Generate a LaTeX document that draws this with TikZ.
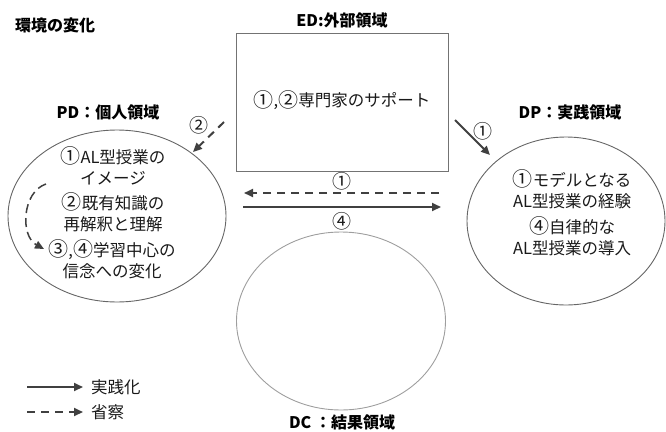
\documentclass[tikz,border=0pt]{standalone}
\usepackage{fontspec}
\setmainfont{Noto Sans CJK JP}
\usetikzlibrary{shapes.geometric,arrows.meta}
\newcommand\cnum[1]{{\fontsize{20}{21}\selectfont\raisebox{-0.5pt}{#1}}}
\begin{document}
\begin{tikzpicture}[x=1pt,y=-1pt,
  body/.style={font=\fontsize{16.5}{21}\selectfont, align=center, text=black!90, inner sep=0},
  lab/.style={font=\fontsize{16}{19}\selectfont\bfseries, inner sep=0},
  num/.style={font=\fontsize{19}{20}\selectfont, inner sep=0, text=black!90},
  region/.style={ellipse, draw=black!60, line width=0.9pt, inner sep=0},
  arr/.style={draw=black!75, line width=2pt, -{Triangle[length=9pt,width=8pt]}},
  refl/.style={arr, dash pattern=on 8pt off 6pt},
]
\useasboundingbox (0,0) rectangle (666,431);

% title
\node[lab, anchor=west] (title) at (15,25) {環境の変化};

% ED box
\node[lab] (EDlab) at (342,20) {ED:外部領域};
\node[draw=black!55, line width=0.9pt, minimum width=212pt, minimum height=138pt, inner sep=0] (ED) at (342,102) {};
\node[body] (EDtxt) at (342,100) {\cnum{①},\cnum{②}専門家のサポート};

% PD
\node[lab] (PDlab) at (108,112) {PD：個人領域};
\node[region, minimum width=218pt, minimum height=172pt] (PD) at (117,216) {};
\node[body] (PD1) at (113,166) {\cnum{①}AL型授業の\\イメージ};
\node[body] (PD2) at (113,212) {\cnum{②}既有知識の\\再解釈と理解};
\node[body] (PD3) at (112,259) {\cnum{③},\cnum{④}学習中心の\\信念への変化};

% DP
\node[lab] (DPlab) at (570,112) {DP：実践領域};
\node[region, minimum width=198pt, minimum height=168pt] (DP) at (566,221) {};
\node[body] (DP1) at (572,189) {\cnum{①}モデルとなる\\AL型授業の経験};
\node[body] (DP2) at (572,236) {\cnum{④}自律的な\\AL型授業の導入};

% DC
\node[region, draw=black!38, minimum width=209pt, minimum height=178pt] (DC) at (341,321) {};
\node[lab] (DClab) at (342,422) {DC ：結果領域};

% arrows
\coordinate (a2s) at (224,122);
\coordinate (a2e) at (193,152);
\draw[refl] (a2s) -- (a2e);
\node[num] (n2) at (199,125) {②};

\coordinate (a1s) at (455,120);
\coordinate (a1e) at (490,155);
\draw[arr] (a1s) -- (a1e);
\node[num] (n1) at (483,131) {①};

\coordinate (m1s) at (439,193);
\coordinate (m1e) at (244,193);
\draw[refl] (m1s) -- (m1e);
\node[num] (nm1) at (342,181) {①};

\coordinate (m4s) at (243,207);
\coordinate (m4e) at (441,207);
\draw[arr] (m4s) -- (m4e);
\node[num] (nm4) at (342,221) {④};

% internal curved reflection arrow
\coordinate (cs) at (46,184);
\coordinate (ce) at (44,249);
\draw[draw=black!75, line width=1.5pt, dash pattern=on 9pt off 5pt, -{Triangle[length=9pt,width=8pt]}]
  (cs) .. controls (22,192) and (20,236) .. (ce);

% legend
\coordinate (l1s) at (27,387);
\coordinate (l1e) at (83,387);
\draw[arr] (l1s) -- (l1e);
\node[body, anchor=west] (leg1) at (91,387) {実践化};
\coordinate (l2s) at (27,412);
\coordinate (l2e) at (83,412);
\draw[refl] (l2s) -- (l2e);
\node[body, anchor=west] (leg2) at (91,412) {省察};
\end{tikzpicture}
\end{document}
